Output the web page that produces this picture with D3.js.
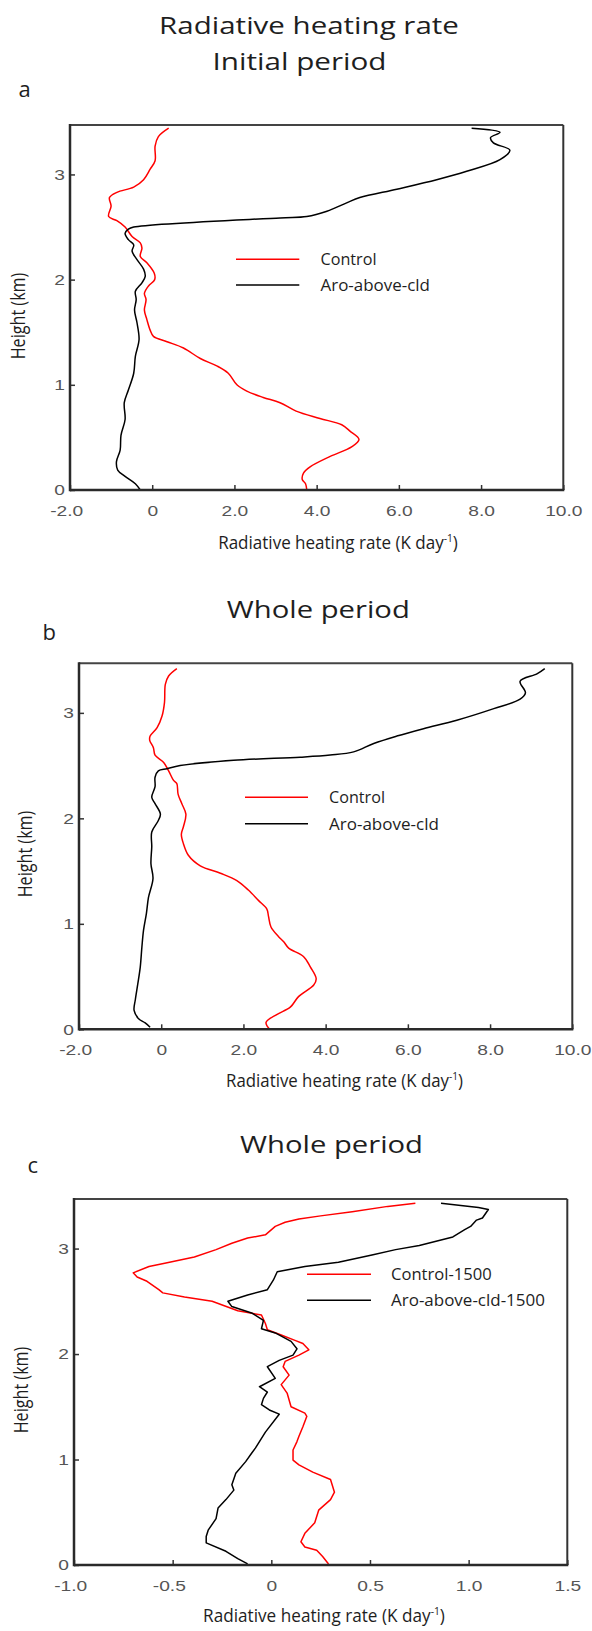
<!DOCTYPE html>
<html><head><meta charset="utf-8">
<script src="https://cdn.jsdelivr.net/npm/d3@7"></script>
<style>body{margin:0;background:#fff} svg{display:block}</style>
</head><body>
<svg id="chart" width="592" height="1631"></svg>
<script>
// ---------- DATA ----------
// Panel a (Initial period)
const aControlH = [3.44,3.36,3.27,3.13,3.05,2.95,2.88,2.83,2.78,2.70,2.60,2.56,2.50,2.41,2.35,2.30,2.22,2.16,2.06,2.00,1.94,1.87,1.81,1.71,1.62,1.52,1.46,1.41,1.35,1.25,1.18,1.11,1.00,0.94,0.88,0.83,0.75,0.68,0.62,0.56,0.48,0.41,0.32,0.22,0.16,0.10,0.06,0.0];
const aControlV = [0.40,0.15,0.07,0.07,-0.05,-0.21,-0.45,-0.86,-1.04,-1.00,-1.06,-0.86,-0.66,-0.49,-0.29,-0.25,-0.29,-0.13,0.05,0.06,-0.09,-0.19,-0.15,-0.19,-0.13,-0.05,0.03,0.36,0.76,1.17,1.57,1.85,2.06,2.30,2.70,3.11,3.5,4.08,4.61,4.81,5.03,4.85,4.33,3.84,3.68,3.65,3.73,3.76];
const aAroH = [3.44,3.40,3.35,3.30,3.23,3.14,3.03,2.95,2.86,2.78,2.73,2.65,2.60,2.587,2.50,2.48,2.44,2.38,2.33,2.27,2.19,2.10,2.03,1.97,1.89,1.81,1.71,1.59,1.43,1.27,1.11,0.95,0.83,0.67,0.52,0.38,0.27,0.19,0.13,0.06,0.0];
const aAroV = [7.77,8.46,8.23,8.30,8.70,8.46,7.65,6.92,5.95,5.05,4.73,4.25,3.76,3.11,-0.45,-0.58,-0.66,-0.58,-0.45,-0.49,-0.37,-0.21,-0.17,-0.25,-0.41,-0.39,-0.43,-0.37,-0.32,-0.41,-0.45,-0.58,-0.68,-0.66,-0.76,-0.78,-0.87,-0.84,-0.66,-0.41,-0.29];
// Panel b (Whole period)
const bControlH = [3.42,3.35,3.27,3.10,2.97,2.86,2.78,2.74,2.67,2.60,2.53,2.45,2.36,2.33,2.23,2.14,2.04,1.92,1.85,1.76,1.65,1.55,1.48,1.41,1.32,1.22,1.14,1.07,0.97,0.88,0.83,0.77,0.69,0.59,0.48,0.42,0.31,0.21,0.14,0.065,0.0];
const bControlV = [0.38,0.18,0.10,0.08,0.02,-0.10,-0.27,-0.28,-0.19,-0.15,0.06,0.18,0.30,0.38,0.41,0.50,0.60,0.54,0.49,0.54,0.66,0.95,1.44,1.84,2.12,2.37,2.57,2.61,2.67,2.85,2.98,3.10,3.46,3.63,3.77,3.71,3.34,3.14,2.81,2.55,2.64];
const bAroH = [3.42,3.37,3.30,3.19,3.13,3.04,2.93,2.85,2.78,2.71,2.63,2.60,2.58,2.55,2.50,2.47,2.45,2.39,2.30,2.20,2.14,2.04,1.98,1.87,1.73,1.57,1.43,1.25,1.10,0.94,0.78,0.59,0.43,0.28,0.18,0.10,0.06,0.02];
const bAroV = [9.33,9.14,8.73,8.86,8.73,8.09,7.19,6.38,5.73,5.17,4.68,4.11,3.38,1.76,0.46,0.14,-0.07,-0.15,-0.15,-0.23,-0.15,-0.02,-0.07,-0.23,-0.23,-0.25,-0.20,-0.31,-0.36,-0.43,-0.47,-0.51,-0.57,-0.63,-0.66,-0.55,-0.39,-0.27];
// Panel c (Whole period, 1500)
const cControlH = [3.43,3.40,3.35,3.31,3.28,3.25,3.21,3.13,3.10,3.05,2.99,2.92,2.86,2.83,2.77,2.73,2.69,2.61,2.58,2.54,2.50,2.41,2.37,2.29,2.23,2.18,2.13,2.10,2.04,1.99,1.93,1.88,1.80,1.71,1.63,1.50,1.44,1.41,1.31,1.22,1.17,1.09,0.995,0.95,0.88,0.81,0.69,0.62,0.52,0.40,0.30,0.22,0.17,0.14,0.08,0.01];
const cControlV = [0.73,0.59,0.41,0.25,0.14,0.07,0.02,-0.03,-0.12,-0.20,-0.28,-0.39,-0.54,-0.62,-0.70,-0.68,-0.63,-0.57,-0.55,-0.44,-0.30,-0.17,-0.05,-0.03,-0.02,0.05,0.12,0.16,0.19,0.14,0.07,0.06,0.09,0.05,0.08,0.10,0.17,0.18,0.16,0.14,0.13,0.11,0.11,0.14,0.21,0.30,0.32,0.30,0.24,0.22,0.17,0.15,0.17,0.23,0.26,0.29];
const cAroH = [3.43,3.39,3.37,3.29,3.27,3.21,3.18,3.11,3.03,2.99,2.94,2.87,2.83,2.78,2.70,2.61,2.56,2.50,2.45,2.39,2.32,2.24,2.20,2.12,2.05,1.99,1.94,1.88,1.77,1.69,1.64,1.58,1.52,1.47,1.43,1.26,1.11,1.06,0.98,0.87,0.76,0.71,0.62,0.54,0.44,0.33,0.27,0.21,0.13,0.06,0.01];
const cAroV = [0.86,1.05,1.10,1.07,1.04,1.01,0.98,0.92,0.75,0.63,0.51,0.34,0.17,0.03,0.01,-0.02,-0.12,-0.22,-0.20,-0.10,-0.04,-0.05,0.02,0.10,0.13,0.11,0.04,-0.02,0.02,-0.06,-0.02,-0.04,-0.05,-0.01,0.04,-0.03,-0.08,-0.10,-0.13,-0.18,-0.20,-0.19,-0.23,-0.27,-0.28,-0.32,-0.33,-0.33,-0.23,-0.17,-0.12];

// Ticks / labels
const abXTicks = [-2,0,2,4,6,8,10];
const abXTickLabels = ["-2.0","0","2.0","4.0","6.0","8.0","10.0"];
const cXTicks = [-1,-0.5,0,0.5,1,1.5];
const cXTickLabels = ["-1.0","-0.5","0","0.5","1.0","1.5"];
const yTicks = [0,1,2,3];
const yTickLabels = ["0","1","2","3"];
const abLegend = ["Control","Aro-above-cld"];
const cLegend = ["Control-1500","Aro-above-cld-1500"];
const seriesColors = ["#ff0000","#000000"];

// ---------- DRAW ----------
const svg = d3.select("#chart");
const FONT = "'Open Sans', 'Noto Sans', sans-serif";
const TICKFONT = "'Liberation Sans', Arial, sans-serif";

function stretchText(g, x, y, fs, width, build, anchor, rot, sy) {
  const t = g.append("text").attr("font-family", FONT).attr("font-size", fs)
    .attr("fill", "#1e1e1e").attr("text-anchor", anchor || "middle");
  if (typeof build === "string") t.text(build); else build(t);
  const w = t.node().getBBox().width;
  const k = width / w;
  t.attr("transform", `translate(${x},${y})` + (rot ? ` rotate(${rot})` : "") + ` scale(${k},${sy || 1})`);
  return t;
}

const panels = [
  { x0:70, x1:563.3, yTop:125, yBot:490, dom:[-2,10], ticks:abXTicks, tickLabels:abXTickLabels,
    series:[[aControlH,aControlV],[aAroH,aAroV]], legend:abLegend, curve:d3.curveCatmullRom.alpha(0.5),
    leg:{lx0:236, lx1:299.3, ly:259.3, gap:25.7, tx:320.5, widths:[56,109.5]},
    xlab:{cx:338, y:549, w:240}, ylab:{x:24.5, cy:316}, letter:{t:"a", x:18.5, y:96.5} },
  { x0:79, x1:572.3, yTop:663.3, yBot:1029.3, dom:[-2,10], ticks:abXTicks, tickLabels:abXTickLabels,
    series:[[bControlH,bControlV],[bAroH,bAroV]], legend:abLegend, curve:d3.curveCatmullRom.alpha(0.5),
    leg:{lx0:245, lx1:308, ly:797.3, gap:26.4, tx:329, widths:[56,110]},
    xlab:{cx:344.5, y:1086.7, w:237}, ylab:{x:32, cy:854}, letter:{t:"b", x:42.5, y:640} },
  { x0:74, x1:567.3, yTop:1199, yBot:1565, dom:[-1,1.5], ticks:cXTicks, tickLabels:cXTickLabels,
    series:[[cControlH,cControlV],[cAroH,cAroV]], legend:cLegend, curve:d3.curveLinear,
    leg:{lx0:307, lx1:371, ly:1274.3, gap:26, tx:391, widths:[100.7,154]},
    xlab:{cx:324, y:1621.7, w:242}, ylab:{x:28, cy:1390}, letter:{t:"c", x:27.5, y:1173} }
];

panels.forEach(p => {
  const g = svg.append("g");
  const x = d3.scaleLinear().domain(p.dom).range([p.x0, p.x1]);
  const y = d3.scaleLinear().domain([0, 3.47]).range([p.yBot, p.yTop]);

  // series
  const line = d3.line().x(d => x(d[1])).y(d => y(d[0])).curve(p.curve);
  p.series.forEach((s, i) => {
    const pts = s[0].map((h, j) => [h, s[1][j]]);
    g.append("path").datum(pts).attr("d", line).attr("fill", "none")
      .attr("stroke", seriesColors[i]).attr("stroke-width", 1.5).attr("stroke-linejoin", "round");
  });

  // axes
  const xa = g.append("g").attr("transform", `translate(0,${p.yBot})`)
    .call(d3.axisBottom(x).tickValues(p.ticks).tickFormat((d,i) => p.tickLabels[i])
      .tickSizeInner(-5).tickSizeOuter(0).tickPadding(15));
  const ya = g.append("g").attr("transform", `translate(${p.x0},0)`)
    .call(d3.axisLeft(y).tickValues(yTicks).tickFormat((d,i) => yTickLabels[i])
      .tickSizeInner(-5).tickSizeOuter(0).tickPadding(4));
  [xa, ya].forEach(a => {
    a.select(".domain").remove();
    a.selectAll(".tick line").attr("stroke", "#333").attr("stroke-width", 1.5);
    a.selectAll(".tick text").attr("font-family", TICKFONT).attr("font-size", 15).attr("fill", "#555");
  });
  xa.selectAll(".tick text").attr("transform", "scale(1.28,1)")
    .attr("dx", (d) => d < 0 ? "-3px" : 0);
  ya.selectAll(".tick text").attr("transform", "scale(1.28,1)");

  // frame
  g.append("line").attr("x1", p.x0).attr("x2", p.x1).attr("y1", p.yTop).attr("y2", p.yTop)
    .attr("stroke", "#444").attr("stroke-width", 2);
  g.append("line").attr("x1", p.x1).attr("x2", p.x1).attr("y1", p.yTop).attr("y2", p.yBot)
    .attr("stroke", "#333").attr("stroke-width", 2);
  g.append("line").attr("x1", p.x0).attr("x2", p.x0).attr("y1", p.yTop - 1).attr("y2", p.yBot + 1.25)
    .attr("stroke", "#2a2a2a").attr("stroke-width", 2.5);
  g.append("line").attr("x1", p.x0).attr("x2", p.x1 + 1).attr("y1", p.yBot).attr("y2", p.yBot)
    .attr("stroke", "#2a2a2a").attr("stroke-width", 2.5);

  // legend
  p.legend.forEach((name, i) => {
    const ly = p.leg.ly + i * p.leg.gap;
    g.append("line").attr("x1", p.leg.lx0).attr("x2", p.leg.lx1).attr("y1", ly).attr("y2", ly)
      .attr("stroke", seriesColors[i]).attr("stroke-width", 1.5);
    stretchText(g, p.leg.tx, ly + 6, 16.5, p.leg.widths[i], name, "start");
  });

  // axis titles
  stretchText(g, p.xlab.cx, p.xlab.y, 17.5, p.xlab.w, t => {
    t.append("tspan").text("Radiative heating rate (K day");
    t.append("tspan").attr("font-size", 10.5).attr("dy", -7).text("-1");
    t.append("tspan").attr("dy", 7).text(")");
  });
  stretchText(g, p.ylab.x, p.ylab.cy, 16, 87, "Height (km)", "middle", -90, 1.2);

  // panel letter
  g.append("text").attr("x", p.letter.x).attr("y", p.letter.y).attr("font-family", FONT)
    .attr("font-size", 22).attr("fill", "#1e1e1e").text(p.letter.t);
});

// titles
stretchText(svg, 309, 33.5, 24.5, 300, "Radiative heating rate");
stretchText(svg, 299.5, 70, 24.5, 174, "Initial period");
stretchText(svg, 318.3, 617.5, 24.5, 183, "Whole period");
stretchText(svg, 331.5, 1153, 24.5, 183, "Whole period");
</script>
</body></html>
